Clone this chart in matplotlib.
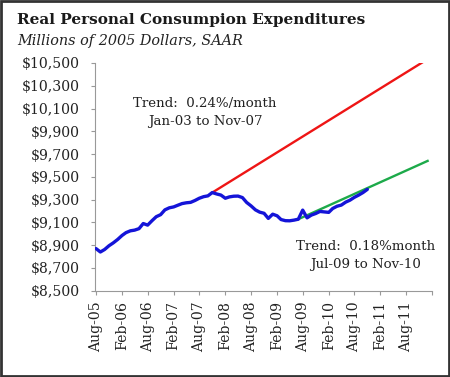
import matplotlib
matplotlib.use("Agg")
import matplotlib.pyplot as plt
import numpy as np
import pandas as pd
import matplotlib.dates as mdates
from matplotlib.patches import Rectangle

# ---- data ----
months = pd.date_range("2005-08-01", "2010-11-01", freq="MS")
pce = [8870, 8840, 8862, 8895, 8920, 8950, 8985, 9010, 9026, 9032,
       9045, 9090, 9076, 9115, 9150, 9168, 9210, 9228, 9236, 9250,
       9265, 9272, 9276, 9292, 9312, 9326, 9333, 9362, 9350, 9340,
       9312, 9324, 9330, 9331, 9318, 9275, 9245, 9210, 9190, 9180,
       9135, 9172, 9158, 9125, 9115, 9114, 9120, 9128, 9208, 9140,
       9164, 9178, 9196, 9192, 9188, 9222, 9242, 9252, 9278, 9295,
       9320, 9340, 9362, 9390]

trend1_dates = pd.to_datetime(["2007-11-01", "2011-12-01"])
trend1_vals = [9362, 10510]
trend2_dates = pd.to_datetime(["2009-07-01", "2012-01-01"])
trend2_vals = [9128, 9640]

tick_dates = pd.date_range("2005-08-01", "2012-02-01", freq="6MS")
tick_labels = [d.strftime("%b-%y") for d in tick_dates[:-1]] + [""]
yticks = [8500, 8700, 8900, 9100, 9300, 9500, 9700, 9900, 10100, 10300, 10500]

serif = ["DejaVu Serif"]

fig = plt.figure(figsize=(4.5, 3.77), dpi=100)
ax = fig.add_axes([95/450, 1-290.7/377, (432-95)/450, (290.7-63)/377])

ax.plot(trend1_dates, trend1_vals, color="#EE1515", lw=1.7, zorder=2)
ax.plot(trend2_dates, trend2_vals, color="#1DAA4A", lw=1.7, zorder=2)
ax.plot(months, pce, color="#1414D8", lw=2.4, zorder=3, solid_capstyle="round")

ax.set_ylim(8500, 10500)
ax.set_xlim(pd.Timestamp("2005-07-25"), pd.Timestamp("2012-02-01"))
ax.set_yticks(yticks)
ax.set_yticklabels(["${:,}".format(v) for v in yticks], fontfamily=serif, fontsize=10.1, color="#222222")
ax.set_xticks(tick_dates)
ax.set_xticklabels(tick_labels, rotation=90, fontfamily=serif, fontsize=10.1, color="#222222")
ax.tick_params(axis="both", length=3, width=0.8, color="#999999", direction="out")
ax.tick_params(axis="y", pad=8)
ax.tick_params(axis="x", pad=4.5)
for s in ["top", "right"]:
    ax.spines[s].set_visible(False)
for s in ["left", "bottom"]:
    ax.spines[s].set_color("#999999")
    ax.spines[s].set_linewidth(0.8)

fs_ann = 9.6
ax.text(0.326, 0.82, "Trend:  0.24%/month", transform=ax.transAxes, ha="center", va="center",
        fontfamily=serif, fontsize=fs_ann, color="#222222")
ax.text(0.326, 0.745, "Jan-03 to Nov-07", transform=ax.transAxes, ha="center", va="center",
        fontfamily=serif, fontsize=fs_ann, color="#222222")
ax.text(0.804, 0.192, "Trend:  0.18%month", transform=ax.transAxes, ha="center", va="center",
        fontfamily=serif, fontsize=fs_ann, color="#222222")
ax.text(0.804, 0.113, "Jul-09 to Nov-10", transform=ax.transAxes, ha="center", va="center",
        fontfamily=serif, fontsize=fs_ann, color="#222222")

fig.text(17/450, 1-20/377, "Real Personal Consumpion Expenditures", fontfamily=serif,
         fontweight="bold", fontsize=11.0, va="center", ha="left", color="#1a1a1a")
fig.text(17/450, 1-41/377, "Millions of 2005 Dollars, SAAR", fontfamily=serif,
         fontstyle="italic", fontsize=10.4, va="center", ha="left", color="#222222")

fig.patches.append(Rectangle((0.002, 0.003), 0.995, 0.994, transform=fig.transFigure,
                             fill=False, edgecolor="#333333", lw=2))

fig.savefig("out.png", dpi=100)
